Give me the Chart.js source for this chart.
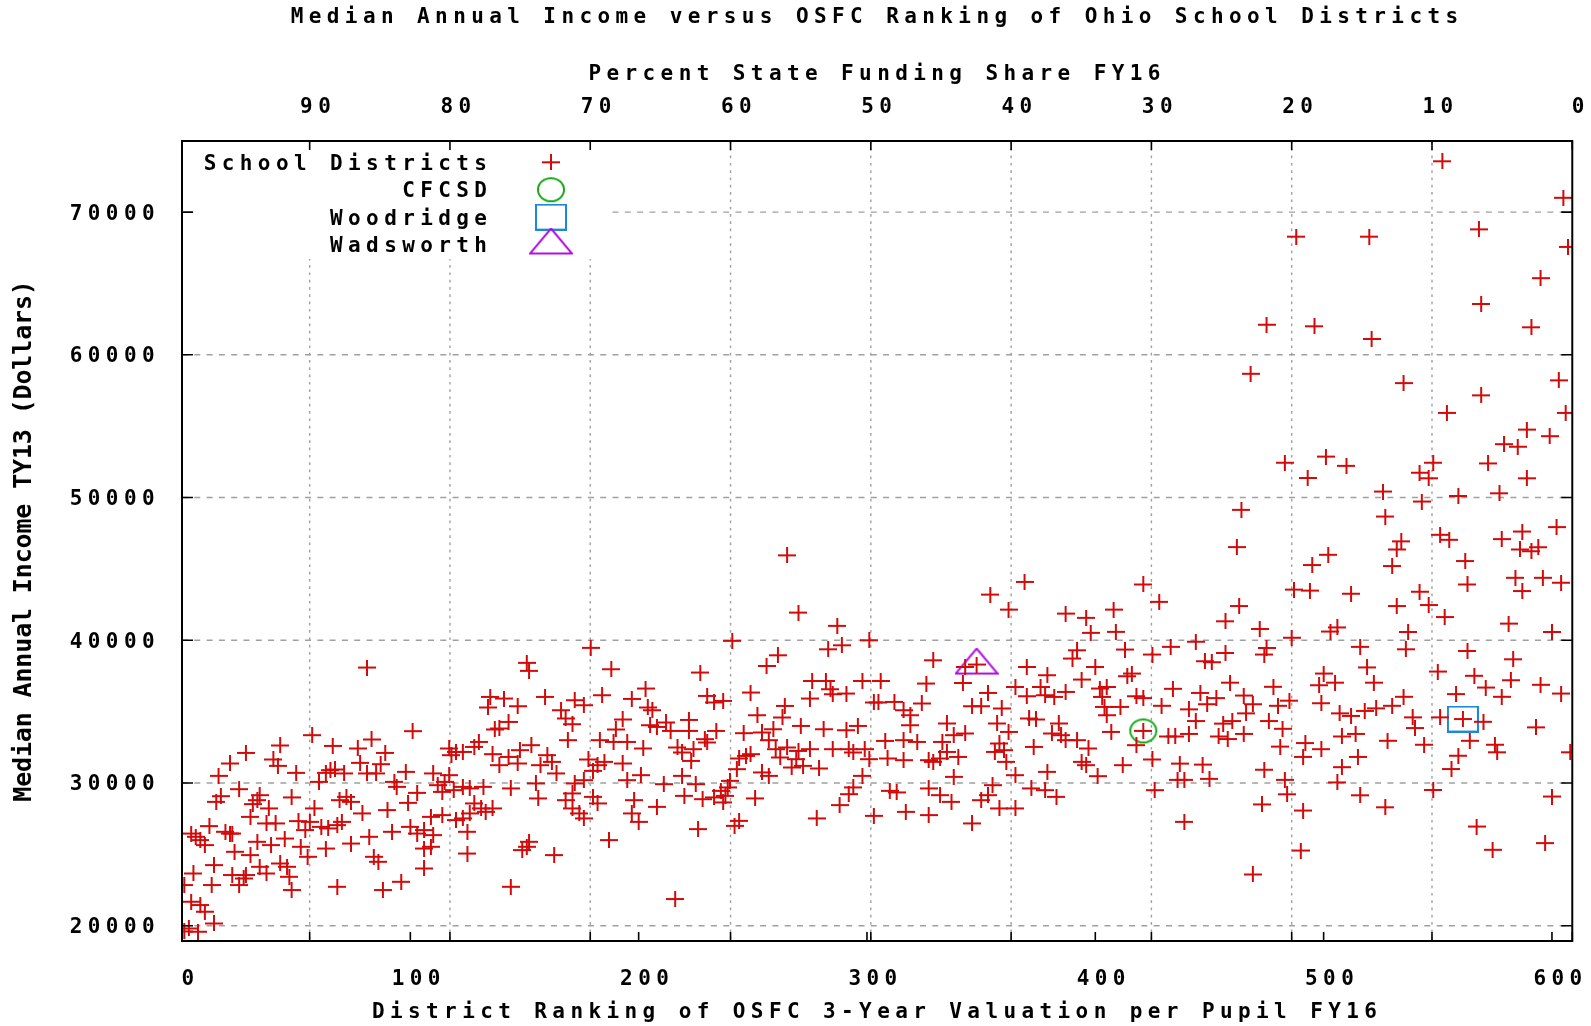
<!DOCTYPE html>
<html>
<head>
<meta charset="utf-8">
<title>Median Annual Income versus OSFC Ranking of Ohio School Districts</title>
<script src="https://cdn.jsdelivr.net/npm/chart.js@4.4.1/dist/chart.umd.min.js"></script>
<style>
  html, body { margin: 0; padding: 0; background: #fff; }
  #wrap { width: 1591px; height: 1026px; }
</style>
</head>
<body>
<div id="wrap"><canvas id="myScatter"></canvas></div>
<script>
var rank = [
  81,101,57,83,43,66,77,28,89,40, 21,78,42,65,67,87,50,63,71,81, 16,85,98,93,60,25,94,17,103,72,
  34,48,15,74,31,99,38,58,90,79, 33,69,30,51,37,41,12,56,61,68, 70,64,54,19,21,4,6,8,10,22,
  92,100,103,82,45,39,33,52,55,63, 23,74,30,84,86,14,34,43,46,37, 5,22,47,27,25,28,96,48,68,88,
  13,1,4,8,10,14,3,7,1,
  179,151,152,188,203,135,141,134,147,159, 184,197,172,176,166,204,206,168,171,143, 139,137,193,190,205,208,169,183,189,195,
  202,130,128,123,120,117,118,136,148,153, 143,139,147,160,162,164,157,178,182,185, 180,193,201,195,110,117,115,112,114,119,
  123,126,132,144,155,156,172,176,171,180, 168,182,171,174,176,198,197,200,208,128, 131,133,136,109,114,120,123,126,125,106,
  110,109,106,106,125,149,152,151,163,187, 144,
  265,270,287,289,283,301,241,261,256,227, 276,282,284,285,291,275,298,306,303,305, 312,230,233,237,249,264,263,252,222,222,
  212,214,234,230,229,246,254,259,257,271, 281,291,296,308,217,219,224,223,247,244, 249,260,265,262,270,275,285,292,294,299,
  301,309,269,267,272,279,243,254,257,298, 211,219,225,240,239,236,238,237,220,228, 233,251,294,292,288,310,313,278,303,244,
  242,226,216,
  369,354,362,387,396,408,398,409,413,329, 343,348,392,390,370,379,400,394,416,414, 326,342,353,365,370,376,378,382,387,402,
  405,403,411,418,324,346,350,359,404,316, 319,335,357,371,374,384,405,407,319,316, 322,333,338,343,362,381,385,387,392,418,
  358,360,356,373,397,335,332,329,327,316, 340,361,394,396,412,338,365,379,401,327, 332,337,355,353,350,372,378,383,317,327,
  358,365,346,
  488,520,475,496,521,468,483,493,501,510, 464,462,495,502,421,428,487,494,512,463, 457,472,503,506,486,433,444,425,448,451,
  457,475,474,516,519,500,498,505,522,434, 446,453,459,465,478,421,429,441,449,469, 480,485,499,507,512,518,523,444,456,460,
  466,476,482,432,435,441,454,458,465,481, 492,508,514,425,437,447,491,499,515,508, 436,439,450,474,483,426,484,506,516,473,
  491,439,490,469,421,
  552,605,568,607,595,569,591,535,569,554, 603,606,589,599,579,585,548,542,546,572, 589,526,559,577,543,527,602,587,551,555,
  534,578,
  532,586,591,594,530,562,563,584,587,596, 604,542,546,532,553,581,537,600,536,563, 583,550,566,582,571,595,604,558,578,535,
  530,539,540,551,561,570,593,528,544,564, 575,576,608,559,556,548,527,600,567,597, 574
];
var income = [
  38090,33630,33350,33050,32630,32600,32420,32110,32110,31650, 31370,31410,31200,30900,30950,31320,30710,30710,30670,30670,
  30500,30670,30780,30080,30080,29570,29730,29080,29310,29030, 29150,28990,28680,28680,28520,28610,28220,28220,28100,27870,
  28800,28800,27630,27330,27170,27170,26980,27280,26930,27050, 27280,26820,26700,26580,26460,26460,26230,26000,25650,26460,
  26580,26930,26460,26230,26110,25650,25880,25530,24830,25410, 25180,25760,24950,24830,24480,24250,24130,24360,24130,23660,
  23660,23550,23430,23310,22850,23550,23080,22500,22730,22500, 22850,22850,21680,21450,20980,20160,19810,19580,19600,
  39470,38420,37860,37970,36620,36030,35920,35290,35380,36030, 36150,35890,35800,35450,35100,35290,35100,34520,34120,34280,
  33820,33750,34450,33750,34050,33930,33000,33000,32880,32880, 32420,32880,32530,32180,32180,32420,31950,32020,32300,32650,
  31830,31250,31370,31950,31480,30670,31250,31650,31250,31480, 30850,31370,30550,30200,30670,30550,30080,29850,29380,29500,
  29730,29620,29730,29620,29970,28920,29970,30200,29270,29030, 28800,28570,28220,27870,27520,28800,27870,27280,28330,28570,
  28220,27980,28220,27630,27750,27400,27520,27870,26580,26700, 26350,25530,25410,24010,25060,25300,25880,25530,24950,26000,
  22730,
  45950,41940,41010,39650,39370,40000,39960,38950,38200,37740, 37150,37150,36570,36220,36270,35920,37150,37150,35640,35640,
  35680,36100,35640,35750,36340,35400,34590,34750,34420,33650, 34240,33650,33650,32840,33070,33490,33540,33770,33000,34000,
  33770,33700,34000,32950,32490,32140,32370,31550,31900,31720, 32020,32370,32490,31790,32250,32370,32370,32370,32140,32370,
  31670,31720,31670,31090,31200,31020,30970,30740,30500,30500, 29920,30500,29920,30150,29690,29450,29100,28640,29100,28870,
  28990,28920,29690,29220,28450,29450,29340,27520,27700,27350, 27000,26770,21870,
  44090,43200,42150,41870,41570,42150,40520,40590,39350,38600, 38130,38300,39300,38720,38130,37550,38130,37250,37670,37480,
  36970,37010,36310,36730,36080,36730,36150,36030,36380,36620, 36730,36030,35330,36080,35570,35380,35380,35220,35330,35100,
  34750,34170,34170,34520,34450,34170,34750,33580,34050,33000, 32880,32880,33350,33470,33580,33470,33350,33000,33000,32650,
  32770,32300,32180,32530,32420,32180,31720,31480,31600,31600, 31830,31480,31480,31250,31250,30430,30550,30780,30480,29620,
  29150,28680,29850,29150,28800,29620,29500,29030,27980,27750, 28220,28220,27170,
  68280,68280,62110,62000,61110,58670,52440,51370,52870,52220, 49140,46530,45270,45990,43910,42690,43550,43480,43260,42400,
  41330,40790,40610,40900,40180,39540,39900,39000,38530,38460, 39110,39460,39000,39540,38100,37670,36850,37030,37030,36600,
  36310,35950,37030,36130,36740,35950,35410,35160,35520,35520, 35410,35770,35590,34880,34700,35050,35230,34340,34160,34340,
  34880,34340,33800,33260,33260,33440,33260,33080,33440,32550, 32800,33260,33440,31650,31360,31290,31830,32370,31830,31110,
  30220,30220,30290,30930,30220,29500,29210,30040,29140,28500, 28070,27280,25270,23590,33650,
  73560,71000,68790,67560,65370,63560,61930,58020,57160,55930, 58210,55930,54760,54300,53740,53560,52440,51740,51350,52390,
  51350,50420,50110,50300,49720,48670,47930,47620,47390,47040, 46930,47090,
  46360,46360,46240,46520,45200,45550,43910,44380,43450,44380, 44030,43400,42470,42400,41630,41170,40580,40580,39370,39250,
  38670,37810,37510,37200,36690,36880,36270,36230,36040,36040, 35410,34600,33850,34600,34480,34290,33900,32960,32680,32960,
  32680,32150,32150,31910,30980,29510,28300,29050,26950,25790, 25320
];

// highlighted districts
var cfcsdRank = [421], cfcsdIncome = [33650];
var woodridgeRank = [561], woodridgeIncome = [34480];
var wadsworthRank = [348], wadsworthIncome = [38300];

// axis ticks
var xTicks = [0, 100, 200, 300, 400, 500, 600];
var x2Ticks = [90, 80, 70, 60, 50, 40, 30, 20, 10, 0];
var yTicks = [20000, 30000, 40000, 50000, 60000, 70000];

var LETTER_GAP = 5.4;
var monoFont = { family: 'DejaVu Sans Mono', size: 21, weight: 'bold', lineHeight: 1.2 };
var fontCss = 'bold 21px "DejaVu Sans Mono"';

function makeMarker(w, h, paint) {
  var c = document.createElement('canvas');
  c.width = w; c.height = h;
  paint(c.getContext('2d'), w, h);
  return c;
}
var crossImg = makeMarker(18, 16, function (g, w, h) {
  g.strokeStyle = '#d20a0a'; g.lineWidth = 2;
  g.beginPath(); g.moveTo(0, 8); g.lineTo(w, 8); g.moveTo(9, 0); g.lineTo(9, h); g.stroke();
});
var circleImg = makeMarker(30, 27, function (g) {
  g.strokeStyle = '#18a818'; g.lineWidth = 2;
  g.beginPath(); g.ellipse(15, 13.5, 13, 11.5, 0, 0, Math.PI * 2); g.stroke();
});
var squareImg = makeMarker(32, 27, function (g) {
  g.strokeStyle = '#1e88d8'; g.lineWidth = 2;
  g.strokeRect(1, 1, 30, 25);
});
var triangleImg = makeMarker(44, 34, function (g) {
  g.strokeStyle = '#b010e0'; g.lineWidth = 2;
  g.beginPath(); g.moveTo(22, 1); g.lineTo(43, 26); g.lineTo(1, 26); g.closePath(); g.stroke();
});

function points(xs, ys) {
  return xs.map(function (x, i) { return { x: x, y: ys[i] }; });
}

var legendRows = [
  { label: 'School Districts', img: crossImg },
  { label: 'CFCSD', img: circleImg },
  { label: 'Woodridge', img: squareImg },
  { label: 'Wadsworth', img: triangleImg }
];

var gnuplotLook = {
  id: 'gnuplotLook',
  beforeDraw: function (chart) {
    chart.ctx.letterSpacing = LETTER_GAP + 'px';
  },
  beforeDatasetsDraw: function (chart) {
    var ctx = chart.ctx, a = chart.chartArea;
    var sy = chart.scales.y, sx2 = chart.scales.x2;
    ctx.save();
    ctx.strokeStyle = '#a0a0a0';
    ctx.lineWidth = 1.4;
    ctx.setLineDash([6, 6.3]);
    yTicks.forEach(function (v) {
      var py = sy.getPixelForValue(v);
      ctx.beginPath(); ctx.moveTo(a.left, py); ctx.lineTo(a.right, py); ctx.stroke();
    });
    ctx.setLineDash([2.7, 4.6]);
    x2Ticks.forEach(function (v) {
      var px = sx2.getPixelForValue(v);
      if (px > a.right - 2) return;
      ctx.beginPath(); ctx.moveTo(px, a.top); ctx.lineTo(px, a.bottom); ctx.stroke();
    });
    // key sits on a blank patch of the plot
    ctx.setLineDash([]);
    ctx.fillStyle = '#fff';
    ctx.fillRect(a.left, a.top, 426, 118);
    ctx.restore();
  },
  afterDatasetsDraw: function (chart) {
    var ctx = chart.ctx, a = chart.chartArea;
    var sx = chart.scales.x, sx2 = chart.scales.x2, sy = chart.scales.y;
    ctx.save();
    ctx.strokeStyle = '#000';
    ctx.lineWidth = 1.6;
    ctx.beginPath();
    xTicks.forEach(function (v) {
      var px = sx.getPixelForValue(v);
      ctx.moveTo(px, a.bottom); ctx.lineTo(px, a.bottom - 9);
    });
    x2Ticks.forEach(function (v) {
      var px = sx2.getPixelForValue(v);
      ctx.moveTo(px, a.top); ctx.lineTo(px, a.top + 9);
      ctx.moveTo(px, a.bottom); ctx.lineTo(px, a.bottom - 9);
    });
    yTicks.forEach(function (v) {
      var py = sy.getPixelForValue(v);
      ctx.moveTo(a.left, py); ctx.lineTo(a.left + 11, py);
      ctx.moveTo(a.right, py); ctx.lineTo(a.right - 11, py);
    });
    ctx.stroke();
    ctx.lineWidth = 2;
    ctx.strokeRect(a.left, a.top, a.right - a.left, a.bottom - a.top);

    // key
    ctx.fillStyle = '#000';
    ctx.font = fontCss;
    ctx.letterSpacing = LETTER_GAP + 'px';
    ctx.textAlign = 'right';
    ctx.textBaseline = 'middle';
    legendRows.forEach(function (row, i) {
      var y = a.top + 21.3 + i * 27.4;
      ctx.fillText(row.label, a.left + 305 + LETTER_GAP, y + 2);
      ctx.drawImage(row.img, a.left + 369 - row.img.width / 2, y - row.img.height / 2);
    });

    // main title
    ctx.textAlign = 'center';
    ctx.fillText('Median Annual Income versus OSFC Ranking of Ohio School Districts',
      (a.left + a.right) / 2, 17.2);

    // left axis title
    ctx.translate(24, (a.top + a.bottom) / 2);
    ctx.rotate(-Math.PI / 2);
    ctx.font = 'bold 25px "DejaVu Sans Mono"';
    ctx.letterSpacing = '-0.15px';
    ctx.fillText('Median Annual Income TY13 (Dollars)', 0, 0);
    ctx.restore();
  }
};

Chart.defaults.font.family = 'DejaVu Sans Mono';
Chart.defaults.color = '#000';

var ctx = document.getElementById('myScatter').getContext('2d');
var myScatter = new Chart(ctx, {
  type: 'scatter',
  data: {
    datasets: [
      { label: 'School Districts', data: points(rank, income), pointStyle: crossImg, pointRadius: 8, pointHoverRadius: 8 },
      { label: 'CFCSD', data: points(cfcsdRank, cfcsdIncome), pointStyle: circleImg, pointRadius: 12, pointHoverRadius: 12 },
      { label: 'Woodridge', data: points(woodridgeRank, woodridgeIncome), pointStyle: squareImg, pointRadius: 14, pointHoverRadius: 14 },
      { label: 'Wadsworth', data: points(wadsworthRank, wadsworthIncome), pointStyle: triangleImg, pointRadius: 16, pointHoverRadius: 16 }
    ]
  },
  options: {
    responsive: true,
    maintainAspectRatio: false,
    devicePixelRatio: 1,
    animation: false,
    events: [],
    layout: { padding: { top: 40, right: 18, bottom: 0, left: 0 } },
    plugins: {
      legend: { display: false },
      title: { display: false },
      tooltip: { enabled: false }
    },
    scales: {
      x: {
        type: 'linear', axis: 'x', position: 'bottom', min: 0, max: 608.9,
        grid: { display: false }, border: { display: false },
        afterBuildTicks: function (s) { s.ticks = xTicks.map(function (v) { return { value: v }; }); },
        afterFit: function (s) { s.height = 85; },
        ticks: { autoSkip: false, maxRotation: 0, padding: 18.4, labelOffset: 8.5, font: monoFont,
          callback: function (v) { return String(v); } },
        title: { display: true, text: 'District Ranking of OSFC 3-Year Valuation per Pupil FY16',
          font: monoFont, padding: { top: 0, bottom: 0.8 } }
      },
      x2: {
        type: 'linear', axis: 'x', position: 'top', reverse: true, min: 0, max: 99.1,
        grid: { display: false }, border: { display: false },
        afterBuildTicks: function (s) { s.ticks = x2Ticks.map(function (v) { return { value: v }; }); },
        afterFit: function (s) { s.height = 101; },
        ticks: { autoSkip: false, maxRotation: 0, padding: 12.4, labelOffset: 8.5, font: monoFont,
          callback: function (v) { return String(v); } },
        title: { display: true, text: 'Percent State Funding Share FY16',
          font: monoFont, padding: { top: 22.4, bottom: 0 } }
      },
      y: {
        type: 'linear', position: 'left', min: 18930, max: 74980,
        grid: { display: false }, border: { display: false },
        afterBuildTicks: function (s) { s.ticks = yTicks.map(function (v) { return { value: v }; }); },
        afterFit: function (s) { s.width = 182; },
        ticks: { autoSkip: false, padding: 14, labelOffset: 2, font: monoFont,
          callback: function (v) { return String(v); } }
      }
    }
  },
  plugins: [gnuplotLook]
});
</script>
</body>
</html>
